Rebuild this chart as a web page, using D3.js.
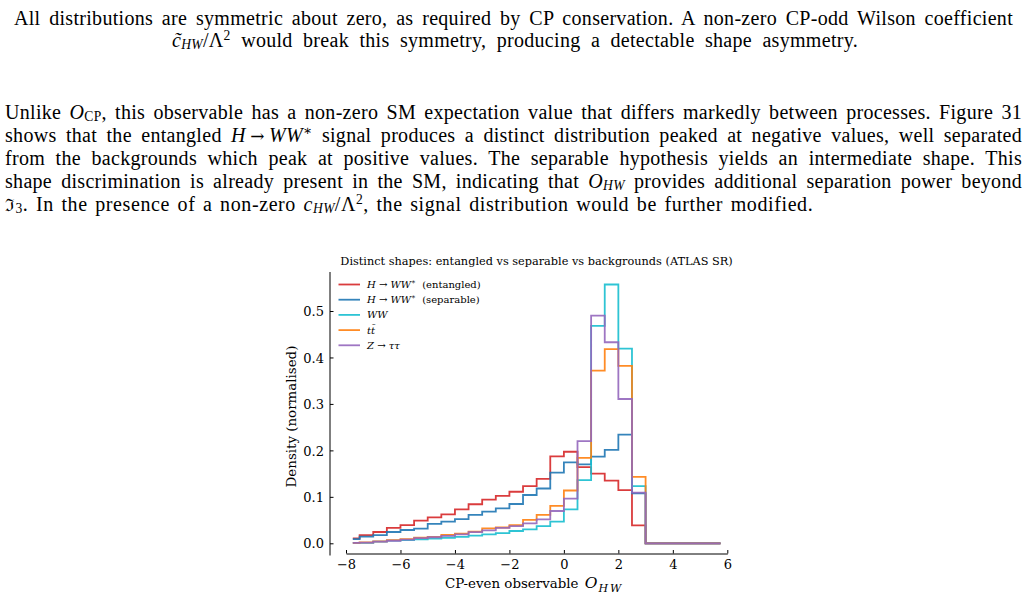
<!DOCTYPE html>
<html><head><meta charset="utf-8">
<script src="https://cdn.jsdelivr.net/npm/d3@7"></script>
<style>
body{margin:0;background:#fff;width:1028px;height:598px;overflow:hidden;position:relative;}
.ln{position:absolute;font-family:"Liberation Serif","DejaVu Serif",serif;font-size:20px;letter-spacing:0.3px;line-height:23px;color:#000;white-space:nowrap;text-align:left;}
.ln.last{letter-spacing:0.6px;word-spacing:2px;}
.ln sub,.ln sup{font-size:68%;line-height:0;letter-spacing:0.3px;}
.ln sub{vertical-align:-0.18em;}
.ln sup{vertical-align:0.5em;}
.ln .fr{font-family:"DejaVu Serif",serif;font-size:17px;}
.ln .ar{font-family:"DejaVu Serif",serif;font-size:17px;}
svg{position:absolute;left:0;top:0;}
</style></head><body>
<div class="ln j" style="left:14px;top:7px;width:999px">All distributions are symmetric about zero, as required by CP conservation. A non-zero CP-odd Wilson coefficient</div>
<div class="ln j" style="left:172px;top:29px;width:686px"><i>c̃<sub>HW</sub></i>/Λ<sup>2</sup> would break this symmetry, producing a detectable shape asymmetry.</div>
<div class="ln j" style="left:5px;top:101px;width:1017px">Unlike <i>O</i><sub>CP</sub>, this observable has a non-zero SM expectation value that differs markedly between processes. Figure 31</div>
<div class="ln j" style="left:5px;top:124px;width:1017px">shows that the entangled <i>H</i>&#8239;<span class="ar">→</span>&#8239;<i>WW</i><sup>∗</sup> signal produces a distinct distribution peaked at negative values, well separated</div>
<div class="ln j" style="left:5px;top:147px;width:1017px">from the backgrounds which peak at positive values. The separable hypothesis yields an intermediate shape. This</div>
<div class="ln j" style="left:5px;top:170px;width:1017px">shape discrimination is already present in the SM, indicating that <i>O<sub>HW</sub></i> provides additional separation power beyond</div>
<div class="ln last" style="left:5px;top:193px;width:1017px"><span class="fr">ℑ</span><sub>3</sub>. In the presence of a non-zero <i>c<sub>HW</sub></i>/Λ<sup>2</sup>, the signal distribution would be further modified.</div>
<svg id="chart" width="1028" height="598"></svg>
<script>
// ---- data ----
const binCenters = [-7.75,-7.25,-6.75,-6.25,-5.75,-5.25,-4.75,-4.25,-3.75,-3.25,-2.75,-2.25,-1.75,-1.25,-0.75,-0.25,0.25,0.75,1.25,1.75,2.25,2.75,3.25,3.75,4.25,4.75,5.25,5.75];
const entangled = [0.0108,0.0178,0.0243,0.033,0.039,0.0487,0.056,0.0624,0.073,0.084,0.094,0.102,0.111,0.123,0.1386,0.187,0.197,0.164,0.150,0.135,0.1145,0.0385,0,0,0,0,0,0];
const separable = [0.009,0.0143,0.0178,0.0243,0.0286,0.0315,0.042,0.0466,0.052,0.061,0.068,0.0753,0.0846,0.104,0.118,0.152,0.174,0.170,0.1865,0.201,0.234,0.1076,0,0,0,0,0,0];
const wwBkg = [0.001,0.001,0.0035,0.0056,0.007,0.0086,0.010,0.012,0.014,0.0164,0.019,0.022,0.0265,0.030,0.037,0.0466,0.073,0.136,0.468,0.557,0.419,0.123,0,0,0,0,0,0];
const ttbarBkg = [0.001,0.002,0.004,0.007,0.009,0.012,0.014,0.018,0.021,0.025,0.032,0.034,0.039,0.0506,0.061,0.0807,0.1137,0.184,0.3715,0.418,0.382,0.143,0,0,0,0,0,0];
const ztautauBkg = [0.001,0.0015,0.0035,0.0055,0.008,0.011,0.013,0.016,0.019,0.024,0.028,0.033,0.037,0.043,0.0516,0.0695,0.096,0.220,0.490,0.4327,0.3106,0.109,0,0,0,0,0,0];
const xTicks = [-8,-6,-4,-2,0,2,4,6];
const yTicks = [0.0,0.1,0.2,0.3,0.4,0.5];
const colors = ["#d62728","#1f77b4","#17becf","#ff7f0e","#9467bd"];
const series = [entangled, separable, wwBkg, ttbarBkg, ztautauBkg];
// legend labels: arrays of [text, style]
const legendLabels = [
  [["H","i"],[" → ",""],["WW","i"],["∗","sup"],["  (entangled)","back"]],
  [["H","i"],[" → ",""],["WW","i"],["∗","sup"],["  (separable)","back"]],
  [["WW","i"]],
  [["t","i"],["t̄","i"]],
  [["Z","i"],[" → ",""],["ττ","i"]]
];

// justify text lines exactly to their box width
document.querySelectorAll(".ln.j").forEach(el=>{
  const target = parseFloat(el.style.width);
  el.innerHTML = "<span>"+el.innerHTML+"</span>";
  el.style.wordSpacing = "0px";
  const w = el.firstChild.getBoundingClientRect().width;
  const n = (el.textContent.match(/ /g)||[]).length;
  if(n>0) el.style.wordSpacing = ((target - w)/n) + "px";
});

const svg = d3.select("#chart");
const x = d3.scaleLinear().domain([-8,6]).range([346,727.3]);
const y = d3.scaleLinear().domain([0,0.5]).range([543.3,311]);
const font = "'DejaVu Serif', serif";

// title
svg.append("text").attr("x",536.5).attr("y",265).attr("text-anchor","middle")
  .attr("font-family",font).attr("font-size",11.3)
  .text("Distinct shapes: entangled vs separable vs backgrounds (ATLAS SR)");

// histogram step lines
const line = d3.line().x((d,i)=>x(binCenters[i])).y(d=>y(d)).curve(d3.curveStep);
series.forEach((s,k)=>{
  svg.append("path").attr("d",line(s)).attr("fill","none")
    .attr("stroke",colors[k]).attr("stroke-width",1.8).attr("stroke-opacity",0.9)
    .attr("stroke-linejoin","miter");
});

// x axis
const gx = svg.append("g").attr("transform","translate(0,553.5)")
  .call(d3.axisBottom(x).tickValues(xTicks).tickSizeInner(-3.5).tickSizeOuter(0));
gx.select(".domain").attr("stroke","#000").attr("stroke-width",1);
gx.selectAll(".tick line").attr("stroke","#000").attr("stroke-width",1);
gx.selectAll(".tick text").attr("y",15.5).attr("dy",0).attr("font-family",font).attr("font-size",13).attr("fill","#000");

// y axis
const gy = svg.append("g").attr("transform","translate(330,0)")
  .call(d3.axisLeft(y).tickValues(yTicks).tickSizeInner(-3.5).tickSizeOuter(0).tickFormat(d3.format(".1f")));
gy.select(".domain").remove();
gy.append("line").attr("x1",0).attr("x2",0).attr("y1",272).attr("y2",555.5).attr("stroke","#000").attr("stroke-width",1);
gy.selectAll(".tick line").attr("stroke","#000").attr("stroke-width",1);
gy.selectAll(".tick text").attr("x",-6).attr("dy","0.36em").attr("font-family",font).attr("font-size",13).attr("fill","#000");

// axis labels
svg.append("text").attr("transform","translate(296,416.5) rotate(-90)").attr("text-anchor","middle")
  .attr("font-family",font).attr("font-size",13.4).text("Density (normalised)");
const xl = svg.append("text").attr("x",445).attr("y",588).attr("text-anchor","start")
  .attr("font-family",font).attr("font-size",13.4);
xl.append("tspan").text("CP-even observable ");
xl.append("tspan").attr("font-style","italic").attr("font-size",15.5).attr("dx",2).text("O");
xl.append("tspan").attr("font-style","italic").attr("font-size",11).attr("dx",1).attr("dy",3.5).attr("letter-spacing",1.8).text("HW");

// legend
legendLabels.forEach((parts,k)=>{
  const yy = 284.5 + k*15.2;
  svg.append("line").attr("x1",338.5).attr("x2",360).attr("y1",yy).attr("y2",yy)
    .attr("stroke",colors[k]).attr("stroke-width",1.8).attr("stroke-opacity",0.9);
  const t = svg.append("text").attr("x",367).attr("y",yy+3.5).attr("font-family",font).attr("font-size",10).attr("xml:space","preserve");
  parts.forEach(([txt,st])=>{
    const sp = t.append("tspan").text(txt);
    if(st==="i"||st==="sup") sp.attr("font-style","italic");
    if(st==="sup"){ sp.attr("font-size",7).attr("dy",-4); }
    if(st==="back"){ sp.attr("dy",4); }
  });
});
</script>
</body></html>
